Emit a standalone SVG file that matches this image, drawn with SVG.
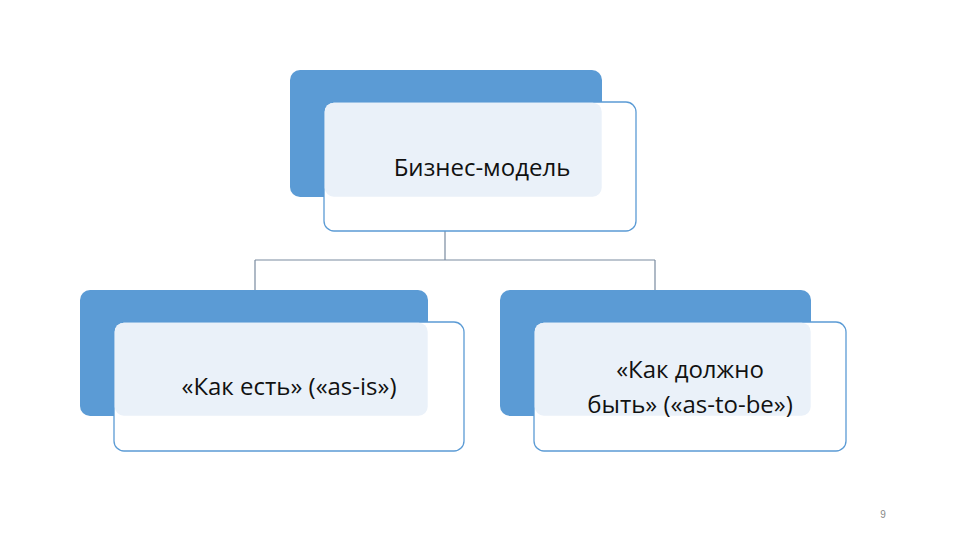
<svg xmlns="http://www.w3.org/2000/svg" width="960" height="540" viewBox="0 0 960 540">
<style>
.back{fill:#5b9bd5}
.front{fill:#fff;stroke:#5b9bd5;stroke-width:1.3}
.ov{fill:#eaf1f9}
.t{font-family:"Open Sans","Liberation Sans",sans-serif;font-size:24px;fill:#111;text-anchor:middle}
.c{fill:none;stroke:#7a8ba0;stroke-width:1.2}
</style>
<rect width="960" height="540" fill="#fff"/>
<g id="connectors">
<path class="c" d="M445 231V260M255 260H655M255 260V290M655 260V290"/>
</g>
<g id="n1">
<rect class="back" x="290" y="70" width="312" height="127" rx="10"/>
<rect class="front" x="324" y="102" width="312" height="129" rx="10"/>
<rect class="ov" x="324.7" y="102.7" width="277" height="94" rx="9"/>
<text class="t" x="482" y="176">Бизнес-модель</text>
</g>
<g id="n2">
<rect class="back" x="80" y="290" width="348" height="126" rx="10"/>
<rect class="front" x="114" y="322" width="350" height="129" rx="10"/>
<rect class="ov" x="114.7" y="322.7" width="313" height="93" rx="9"/>
<text class="t" x="289" y="395">«Как есть» («as-is»)</text>
</g>
<g id="n3">
<rect class="back" x="500" y="290" width="311" height="126" rx="10"/>
<rect class="front" x="534" y="322" width="312" height="129" rx="10"/>
<rect class="ov" x="534.7" y="322.7" width="276" height="93" rx="9"/>
<text class="t" x="690" y="378">«Как должно</text>
<text class="t" x="690" y="413">быть» («as-to-be»)</text>
</g>
<text x="883" y="518" font-family="Liberation Sans,sans-serif" font-size="10" fill="#888" text-anchor="middle">9</text>
</svg>
